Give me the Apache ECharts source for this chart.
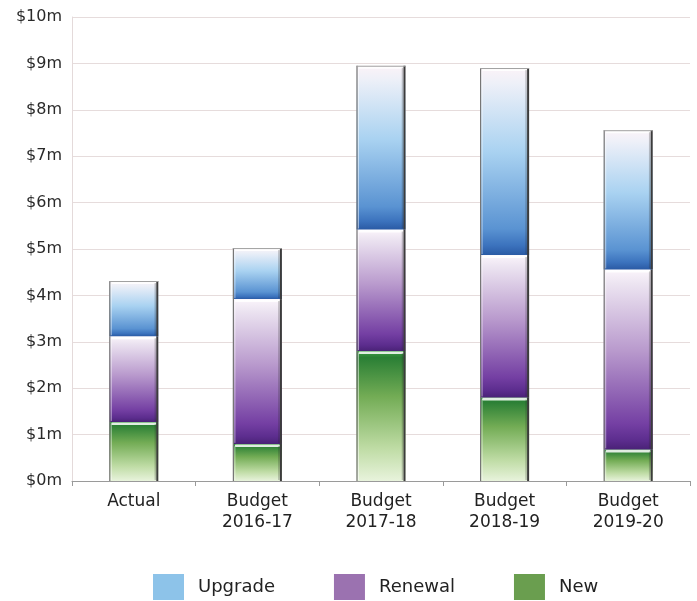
<!DOCTYPE html>
<html>
<head>
<meta charset="utf-8">
<script src="https://cdn.jsdelivr.net/npm/echarts@6/dist/echarts.min.js"></script>
<style>
  html, body { margin: 0; padding: 0; background: #ffffff; }
  #chart { width: 697px; height: 601px; }
</style>
</head>
<body>
<div id="chart"></div>
<script>
// Capital works spend by type, $ millions
const categories = ['Actual', 'Budget\n2016-17', 'Budget\n2017-18', 'Budget\n2018-19', 'Budget\n2019-20'];
const newWorks = [1.27, 0.80, 2.80, 1.80, 0.68];
const renewal  = [1.85, 3.12, 2.62, 3.07, 3.88];
const upgrade  = [1.19, 1.10, 3.53, 4.03, 3.00];
const yTicks = ['$0m', '$1m', '$2m', '$3m', '$4m', '$5m', '$6m', '$7m', '$8m', '$9m', '$10m'];

const FONT = 'DejaVu Sans';
const BAR_W = 49;

function grad(stops) {
  return new echarts.graphic.LinearGradient(0, 0, 0, 1,
    stops.map(s => ({ offset: s[0], color: s[1] })));
}

const fills = {
  Upgrade: [[0, '#fbf3f8'], [0.08, '#eef0f8'], [0.45, '#a9d2f1'], [0.86, '#5a93d2'], [0.95, '#3b72bd'], [1, '#2a5aa4']],
  Renewal: [[0, '#fbf5fb'], [0.08, '#ece4f1'], [0.45, '#b99acd'], [0.86, '#743fa3'], [0.95, '#5c2d8e'], [1, '#4a2277']],
  New:     [[0, '#3f9d45'], [0.05, '#2a7f35'], [0.35, '#73ac55'], [0.75, '#bfdca5'], [1, '#e8f3dc']]
};

// Stack the segments: each data item is [categoryIndex, base, top]
function stacked(values, below) {
  return values.map((v, i) => {
    const base = below.reduce((s, arr) => s + arr[i], 0);
    return [i, base, base + v];
  });
}

function glossyBar(name, capped) {
  return function (params, api) {
    const idx = api.value(0);
    const p0 = api.coord([idx, api.value(1)]);
    const p1 = api.coord([idx, api.value(2)]);
    const x = p0[0] - BAR_W / 2;
    const yTop = p1[1];
    const h = p0[1] - p1[1];
    const children = [
      { type: 'rect', shape: { x: x, y: yTop, width: BAR_W, height: h },
        style: { fill: grad(fills[name]), stroke: null } },
      // soft white highlight across the top of each segment
      { type: 'rect', shape: { x: x + 2, y: yTop + 0.5, width: BAR_W - 4, height: 2.5, r: 1 },
        style: { fill: 'rgba(255,255,255,0.85)' } },
      // left edge
      { type: 'line', shape: { x1: x + 0.5, y1: yTop, x2: x + 0.5, y2: yTop + h },
        style: { stroke: '#767676', lineWidth: 1.2 } },
      { type: 'line', shape: { x1: x + 2, y1: yTop + 2, x2: x + 2, y2: yTop + h - 1 },
        style: { stroke: 'rgba(255,255,255,0.5)', lineWidth: 1 } },
      // right edge, darker
      { type: 'line', shape: { x1: x + BAR_W - 1, y1: yTop, x2: x + BAR_W - 1, y2: yTop + h },
        style: { stroke: '#3c3c3c', lineWidth: 2 } },
      { type: 'line', shape: { x1: x + BAR_W - 3, y1: yTop + 2, x2: x + BAR_W - 3, y2: yTop + h - 1 },
        style: { stroke: 'rgba(40,40,40,0.25)', lineWidth: 1.5 } }
    ];
    if (capped) {
      // thin grey cap on the top of the whole column
      children.push({ type: 'line', shape: { x1: x, y1: yTop + 0.5, x2: x + BAR_W, y2: yTop + 0.5 },
        style: { stroke: '#a0a0a0', lineWidth: 1 } });
    }
    return { type: 'group', children: children };
  };
}

const option = {
  backgroundColor: '#ffffff',
  animation: false,
  textStyle: { fontFamily: FONT },
  grid: { left: 72, right: 7, top: 17, bottom: 120 },
  legend: {
    top: 569,
    left: 148,
    itemWidth: 31,
    itemHeight: 26,
    itemGap: 59,
    icon: 'rect',
    textStyle: { fontSize: 18, color: '#222', fontFamily: FONT, padding: [0, 0, 0, 9] },
    data: [
      { name: 'Upgrade', itemStyle: { color: '#8dc3e9', borderWidth: 0 } },
      { name: 'Renewal', itemStyle: { color: '#9b72b0', borderWidth: 0 } },
      { name: 'New', itemStyle: { color: '#6a9e4f', borderWidth: 0 } }
    ]
  },
  xAxis: {
    type: 'category',
    data: categories,
    axisLine: { lineStyle: { color: '#9a9a9a', width: 1 } },
    axisTick: { show: true, alignWithLabel: false, length: 5, lineStyle: { color: '#9a9a9a' } },
    axisLabel: { fontSize: 17, color: '#222', lineHeight: 21, margin: 10, fontFamily: FONT }
  },
  yAxis: {
    type: 'value',
    min: 0,
    max: 10,
    interval: 1,
    axisLine: { show: true, lineStyle: { color: '#e4dada' } },
    axisTick: { show: false },
    splitLine: { lineStyle: { color: '#e6dcdc', width: 1.2 } },
    axisLabel: {
      fontSize: 16, color: '#2a2a2a', margin: 10, fontFamily: FONT,
      formatter: v => yTicks[Math.round(v)]
    }
  },
  series: [
    { name: 'New', type: 'custom', renderItem: glossyBar('New', false),
      data: stacked(newWorks, []), encode: { x: 0, y: [1, 2] }, itemStyle: { color: '#6a9e4f' } },
    { name: 'Renewal', type: 'custom', renderItem: glossyBar('Renewal', false),
      data: stacked(renewal, [newWorks]), encode: { x: 0, y: [1, 2] }, itemStyle: { color: '#9b72b0' } },
    { name: 'Upgrade', type: 'custom', renderItem: glossyBar('Upgrade', true),
      data: stacked(upgrade, [newWorks, renewal]), encode: { x: 0, y: [1, 2] }, itemStyle: { color: '#8dc3e9' } }
  ]
};

const chart = echarts.init(document.getElementById('chart'), null, { renderer: 'canvas' });
chart.setOption(option);
</script>
</body>
</html>
